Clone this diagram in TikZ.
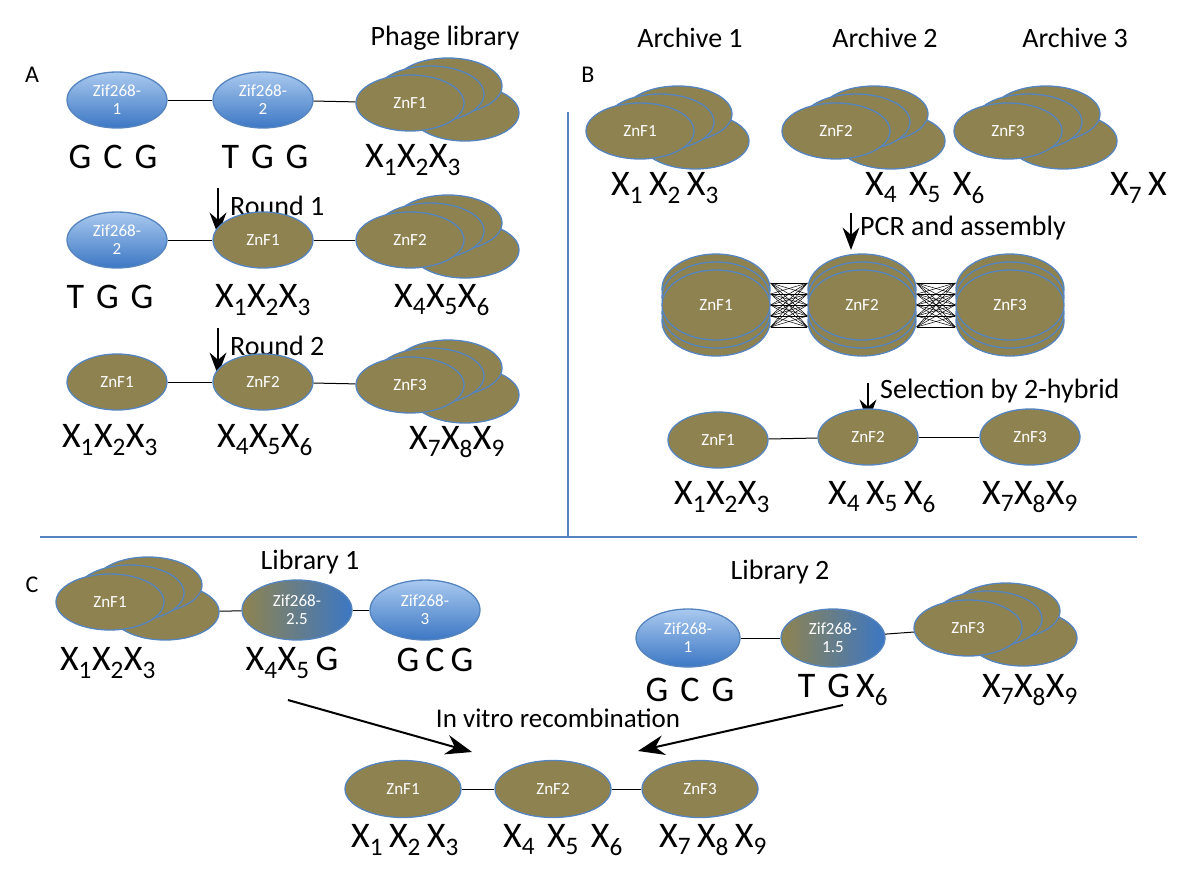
\documentclass[tikz,border=0pt]{standalone}
\usepackage{fontspec}
\setmainfont{Carlito}
\usetikzlibrary{shapes.geometric,arrows.meta}
\definecolor{olive}{HTML}{8E8350}
\definecolor{edge}{HTML}{5584BE}
\definecolor{bluel}{HTML}{A9C9EF}
\definecolor{blued}{HTML}{3C77C4}
\tikzset{
 zf/.style={ellipse,draw=edge,line width=1.3pt,minimum width=100pt,minimum height=56pt,inner sep=0pt,text=white,font=\fontsize{17}{18}\selectfont,align=center},
 ol/.style={zf,fill=olive},
 bl/.style={zf,top color=bluel,bottom color=blued},
 gr/.style={zf,left color=olive,right color=blued},
 lab/.style={font=\fontsize{36}{38}\selectfont,inner sep=0pt},
 ttl/.style={font=\fontsize{28}{30}\selectfont,inner sep=0pt},
 link/.style={black,line width=1pt},
 arr/.style={-{Stealth[scale=2.2]},line width=1.6pt},
 div/.style={draw=edge,line width=2pt}
}
\newcommand{\zstack}[3]{% name, position, label
 \node[ol,minimum width=108pt] (#1r) at ([shift={(55,10)}]#2) {};
 \node[ol,minimum width=108pt] at ([shift={(38,-17)}]#2) {};
 \node[ol,minimum width=108pt] at ([shift={(20,-9)}]#2) {};
 \node[ol,minimum width=108pt] (#1) at (#2) {#3};}
\newcommand{\vstack}[3]{%
 \node[ol,minimum width=108pt,minimum height=70pt] at ([shift={(0,-16)}]#2) {};
 \node[ol,minimum width=108pt,minimum height=70pt] at ([shift={(0,16)}]#2) {};
 \node[ol,minimum width=108pt,minimum height=70pt] at ([shift={(0,-8)}]#2) {};
 \node[ol,minimum width=108pt,minimum height=70pt] at ([shift={(0,8)}]#2) {};
 \node[ol,minimum width=108pt,minimum height=70pt] (#1) at (#2) {#3};}
\newcommand{\X}[1]{X\textsubscript{#1}}
\begin{document}
\begin{tikzpicture}[x=1pt,y=-1pt]
\useasboundingbox (0,0) rectangle (1200,879);
% dividers
\coordinate (v1) at (568,112); \coordinate (v2) at (568,537);
\coordinate (h1) at (40,537); \coordinate (h2) at (1137,537);
\draw[div] (v1)--(v2); \draw[div] (h1)--(h2);
% ---------- A
\node[ttl,font=\fontsize{24}{26}\selectfont] (lA) at (32,75) {A};
\node[ttl] (phl) at (445,38) {Phage library};
\node[bl] (a1) at (117,100) {Zif268-\\1};
\node[bl] (a2) at (263,100) {Zif268-\\2};
\zstack{a3}{410,103}{ZnF1}
\draw[link] (a1)--(a2); \draw[link] (a2)--(a3);
\node[lab] (ta1) at (113,157) {G\,\,C\,\,G};
\node[lab] (ta2) at (265,157) {T\,\,G\,\,G};
\node[lab] (ta3) at (413,160) {\X1\X2\X3};
\coordinate (r1s) at (218,188); \coordinate (r1e) at (218,235);
\draw[arr] (r1s)--(r1e);
\node[ttl,anchor=west] (r1) at (230,206) {Round 1};
\node[bl] (b1) at (117,240) {Zif268-\\2};
\node[ol] (b2) at (263,240) {ZnF1};
\zstack{b3}{410,240}{ZnF2}
\draw[link] (b1)--(b2); \draw[link] (b2)--(b3);
\node[lab] (tb1) at (110,297) {T\,\,G\,\,G};
\node[lab] (tb2) at (263,300) {\X1\X2\X3};
\node[lab] (tb3) at (442,300) {\X4\X5\X6};
\coordinate (r2s) at (218,328); \coordinate (r2e) at (218,375);
\draw[arr] (r2s)--(r2e);
\node[ttl,anchor=west] (r2) at (230,346) {Round 2};
\node[ol] (c1) at (117,382) {ZnF1};
\node[ol] (c2) at (263,382) {ZnF2};
\zstack{c3}{410,385}{ZnF3}
\draw[link] (c1)--(c2); \draw[link] (c2)--(c3);
\node[lab] (tc1) at (110,440) {\X1\X2\X3};
\node[lab] (tc2) at (265,440) {\X4\X5\X6};
\node[lab] (tc3) at (457,442) {\X7\X8\X9};
% ---------- B
\node[ttl,font=\fontsize{24}{26}\selectfont] (lB) at (588,75) {B};
\node[ttl] (ar1) at (690,38) {Archive 1};
\node[ttl] (ar2) at (885,38) {Archive 2};
\node[ttl] (ar3) at (1075,38) {Archive 3};
\zstack{d1}{640,131}{ZnF1}
\zstack{d2}{836,131}{ZnF2}
\zstack{d3}{1008,131}{ZnF3}
\node[lab] (td1) at (665,188) {\X1\,\X2\,\X3};
\node[lab] (td2) at (925,188) {\X4\,\,\X5\,\,\X6};
\node[lab,anchor=west] (td3) at (1110,188) {\X7\,X};
\coordinate (ps) at (851,213); \coordinate (pe) at (851,250);
\draw[arr] (ps)--(pe);
\node[ttl,anchor=west] (pcr) at (860,228) {PCR and assembly};
\vstack{e1}{716,305}{ZnF1}
\vstack{e2}{862,305}{ZnF2}
\vstack{e3}{1010,305}{ZnF3}
\foreach \a in {-22,-11,0,11,22} \foreach \b in {-22,-11,0,11,22} {
 \draw[black,line width=0.5pt] ([yshift=\a]e1.east) -- ([yshift=\b]e2.west);
 \draw[black,line width=0.5pt] ([yshift=\a]e2.east) -- ([yshift=\b]e3.west);}
\coordinate (ss) at (868,383); \coordinate (se) at (868,422);
\draw[arr] (ss)--(se);
\node[ttl,anchor=west] (sel) at (880,391) {Selection by 2-hybrid};
\node[ol] (f1) at (718,440) {ZnF1};
\node[ol] (f2) at (868,437) {ZnF2};
\node[ol] (f3) at (1030,437) {ZnF3};
\draw[link] (f1)--(f2); \draw[link] (f2)--(f3);
\node[lab] (tf1) at (722,497) {\X1\X2\X3};
\node[lab] (tf2) at (882,497) {\X4\,\X5\,\X6};
\node[lab] (tf3) at (1030,497) {\X7\X8\X9};
% ---------- C
\node[ttl,font=\fontsize{24}{26}\selectfont] (lC) at (32,585) {C};
\node[ttl] (lib1) at (310,562) {Library 1};
\zstack{g1}{110,602}{ZnF1}
\node[gr,minimum width=110pt,minimum height=60pt] (g2) at (297,610) {Zif268-\\2.5};
\node[bl,minimum width=110pt,minimum height=60pt] (g3) at (425,610) {Zif268-\\3};
\draw[link] (g1r)--(g2); \draw[link] (g2)--(g3);
\node[lab] (tg1) at (108,663) {\X1\X2\X3};
\node[lab] (tg2) at (292,663) {\X4\X5\,G};
\node[lab] (tg3) at (435,660) {G\,C\,G};
\node[ttl] (lib2) at (780,572) {Library 2};
\node[bl,minimum width=104pt,minimum height=58pt] (k1) at (688,638) {Zif268-\\1};
\node[gr,minimum width=104pt,minimum height=58pt] (k2) at (833,638) {Zif268-\\1.5};
\zstack{k3}{968,628}{ZnF3}
\draw[link] (k1)--(k2); \draw[link] (k2)--(k3);
\node[lab] (tk1) at (690,690) {G\,\,C\,\,G};
\node[lab] (tk2) at (843,690) {T\,\,G\,\X6};
\node[lab] (tk3) at (1030,690) {\X7\X8\X9};
\node[ttl,font=\fontsize{27}{29}\selectfont] (ivr) at (558,718) {In vitro recombination};
\coordinate (i1s) at (288,700); \coordinate (i1e) at (472,752);
\coordinate (i2s) at (843,705); \coordinate (i2e) at (638,751);
\draw[arr,line width=2pt] (i1s)--(i1e);
\draw[arr,line width=2pt] (i2s)--(i2e);
\node[ol,minimum width=116pt,minimum height=57pt] (m1) at (403,789) {ZnF1};
\node[ol,minimum width=116pt,minimum height=57pt] (m2) at (553,789) {ZnF2};
\node[ol,minimum width=116pt,minimum height=57pt] (m3) at (700,789) {ZnF3};
\draw[link] (m1)--(m2); \draw[link] (m2)--(m3);
\node[lab] (tm1) at (405,840) {\X1\,\X2\,\X3};
\node[lab] (tm2) at (563,840) {\X4\,\,\X5\,\,\X6};
\node[lab] (tm3) at (713,840) {\X7\,\X8\,\X9};
\end{tikzpicture}
\end{document}
